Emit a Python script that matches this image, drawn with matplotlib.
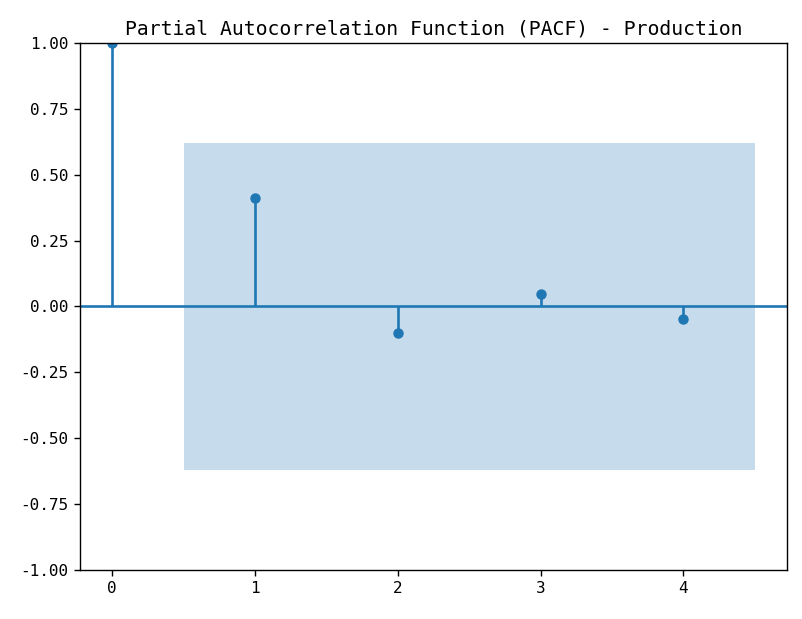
import numpy as np
import matplotlib
matplotlib.use('Agg')
import matplotlib.pyplot as plt

plt.rcParams['font.family'] = ['DejaVu Sans Mono', 'Noto Sans CJK SC']
plt.rcParams['axes.unicode_minus'] = False

# PACF 数据
lags = [0, 1, 2, 3, 4]
pacf_vals = [1.0, 0.41, -0.102, 0.049, -0.049]
conf_x = [0.5, 4.5]
conf_level = 0.62

fig = plt.figure(figsize=(8.03, 6.19), dpi=100)
ax = fig.add_axes([0.0996, 0.0792, 0.8804, 0.8513])

ax.vlines(lags, [0] * len(lags), pacf_vals, color='#1f77b4', linewidth=1.9)
ax.plot(lags, pacf_vals, 'o', color='#1f77b4', markersize=6.5)
ax.axhline(0, color='#1f77b4', linewidth=1.9)
ax.fill_between(conf_x, -conf_level, conf_level, color='#1f77b4', alpha=0.25, linewidth=0)

ax.margins(0.05)
ax.set_ylim(-1, 1)
ax.set_yticks(np.arange(-1, 1.01, 0.25))
ax.set_yticklabels(['%.2f' % v for v in np.arange(-1, 1.01, 0.25)])
ax.set_xticks(lags)
ax.tick_params(labelsize=11.5, width=1, length=4.5)
for s in ax.spines.values():
    s.set_linewidth(1)

ax.set_title('Partial Autocorrelation Function (PACF) - Production', fontsize=14.2)

fig.savefig('out.png', dpi=100)
